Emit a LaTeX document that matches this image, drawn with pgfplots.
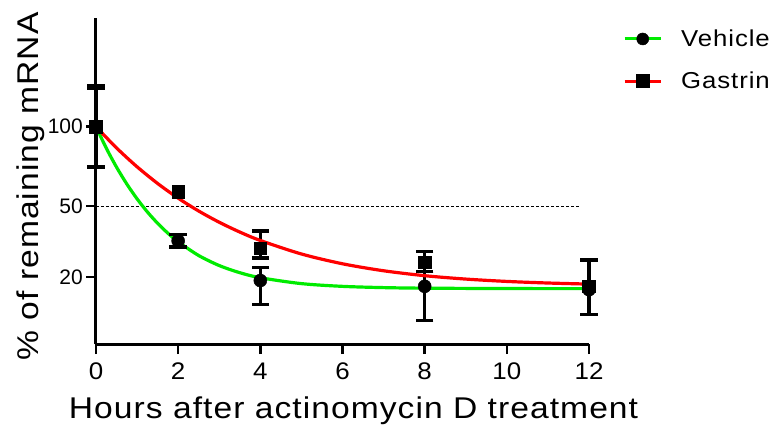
\documentclass[border=0pt]{standalone}
\usepackage{fontspec}
\setmainfont{Liberation Sans}
\newfontfamily\labelfont[FakeStretch=1.12,LetterSpace=3.5]{Liberation Sans}
\newfontfamily\legfont[FakeStretch=1.12,LetterSpace=4]{Liberation Sans}
\newfontfamily\xtickfont[FakeStretch=1.08]{Liberation Sans}
\usepackage{pgfplots}
\usepackage{pgfplotstable}
\pgfplotsset{compat=1.18}
\definecolor{vehgreen}{RGB}{0,235,0}
\definecolor{gasred}{RGB}{255,0,0}

% means
\pgfplotstableread{
t  m
0  100
2  33.6
4  18.8
8  17.0
12 16
}\vehicle
\pgfplotstableread{
t  m
0  100
2  57.7
4  30.5
8  25.1
12 17
}\gastrin
% SD bar ends (low, high); nan rows break the line between bars
\pgfplotstableread{
t  y
0  73
0  130
0  nan
2  31.0
2  36.5
2  nan
4  11.9
4  23.3
4  nan
8  8.2
8  21.7
}\vehbars
\pgfplotstableread{
t  y
0  72.2
0  132.3
0  nan
4  26.7
4  38.0
4  nan
8  21.7
8  29.3
8  nan
12 9.5
12 25.9
}\gasbars

\begin{document}
\begin{tikzpicture}
\begin{axis}[
  at={(0,0)}, anchor=south west,
  scale only axis, width=493bp, height=326bp,
  xmin=0, xmax=12, ymin=4, ymax=196,
  y coord trafo/.code={\pgfmathparse{sqrt(#1)}},
  y coord inv trafo/.code={\pgfmathparse{(#1)^2}},
  clip=false,
  axis x line*=bottom, axis y line*=left,
  axis line style={line width=3bp, -},
  xtick={0,2,...,12},
  ytick={20,50,100}, yticklabels={20,50,100},
  tick align=outside, major tick length=10bp,
  tick style={black, line width=2.5bp},
  /pgf/number format/assume math mode=true,
  xticklabel style={font=\xtickfont\fontsize{24bp}{28bp}\selectfont, inner sep=0pt, yshift=-9bp},
  yticklabel style={font=\fontsize{21bp}{25bp}\selectfont, inner sep=0pt, xshift=-3bp},
  xlabel={Hours after actinomycin D treatment},
  xlabel style={font=\labelfont\fontsize{30bp}{36bp}\selectfont,
    at={(axis description cs:0.5223,-0.230)}, anchor=base},
  ylabel={\% of remaining mRNA},
  ylabel style={font=\labelfont\fontsize{30bp}{36bp}\selectfont,
    at={(axis description cs:-0.117,0.483)}, anchor=base},
  legend style={at={(axis description cs:1.069,0.871)}, anchor=west,
    draw=none, fill=none, inner sep=0pt, row sep=24bp,
    font=\legfont\fontsize{23bp}{27bp}\selectfont,
    nodes={inner sep=0pt},
    /tikz/every odd column/.style={column sep=19bp}},
  legend cell align=left,
  legend image code/.code={
    \draw[mark repeat=2,mark phase=2,#1] plot coordinates {(0bp,0bp) (18bp,0bp) (36bp,0bp)};},
  unbounded coords=jump,
]
\addlegendimage{vehgreen, line width=3bp, mark=*, mark size=6bp,
  mark options={black, fill=black, line width=0.5bp}}
\addlegendentry{Vehicle}
\addlegendimage{gasred, line width=3bp, mark=square*, mark size=6.5bp,
  mark options={black, fill=black, line width=0.5bp}}
\addlegendentry{Gastrin}

% 50% reference line
\addplot[black, line width=1bp, dash pattern=on 3bp off 2bp, forget plot]
  coordinates {(0,50) (11.8,50)};

% SD bars with caps
\addplot[black, line width=3.3bp, mark=-, mark size=8.8bp,
  mark options={solid, line width=3.3bp}, forget plot] table[x=t, y=y] {\vehbars};
\addplot[black, line width=3.3bp, mark=-, mark size=8.8bp,
  mark options={solid, line width=3.3bp}, forget plot] table[x=t, y=y] {\gasbars};

% means
\addplot[black, only marks, mark=*, mark size=6.5bp,
  mark options={fill=black, line width=0.5bp}, forget plot]
  table[x=t, y=m] {\vehicle};
\addplot[black, only marks, mark=square*, mark size=6.3bp,
  mark options={fill=black, line width=0.5bp}, forget plot]
  table[x=t, y=m] {\gastrin};

% one-phase decay fits
\addplot[vehgreen, line width=3.2bp, smooth, forget plot] coordinates {
  (0,100) (0.25,84.83) (0.5,72.41) (0.75,62.24) (1,53.91) (1.25,47.09)
  (1.5,41.51) (1.75,36.94) (2,33.20) (2.5,27.63) (3,23.89) (3.5,21.39)
  (4,19.71) (5,17.83) (6,16.99) (7,16.61) (8,16.44) (10,16.33) (12,16.30)};
\addplot[gasred, line width=3.2bp, smooth, forget plot] coordinates {
  (0,100) (0.5,84.95) (1,72.64) (1.5,62.55) (2,54.29) (2.5,47.53)
  (3,42.0) (3.5,37.47) (4,33.76) (5,28.23) (6,24.53) (7,22.05)
  (8,20.38) (9,19.27) (10,18.52) (11,18.02) (12,17.68)};
\end{axis}
\pgfresetboundingbox
\path[use as bounding box] (-96bp,-86bp) rectangle (677bp,344bp);
\end{tikzpicture}
\end{document}
